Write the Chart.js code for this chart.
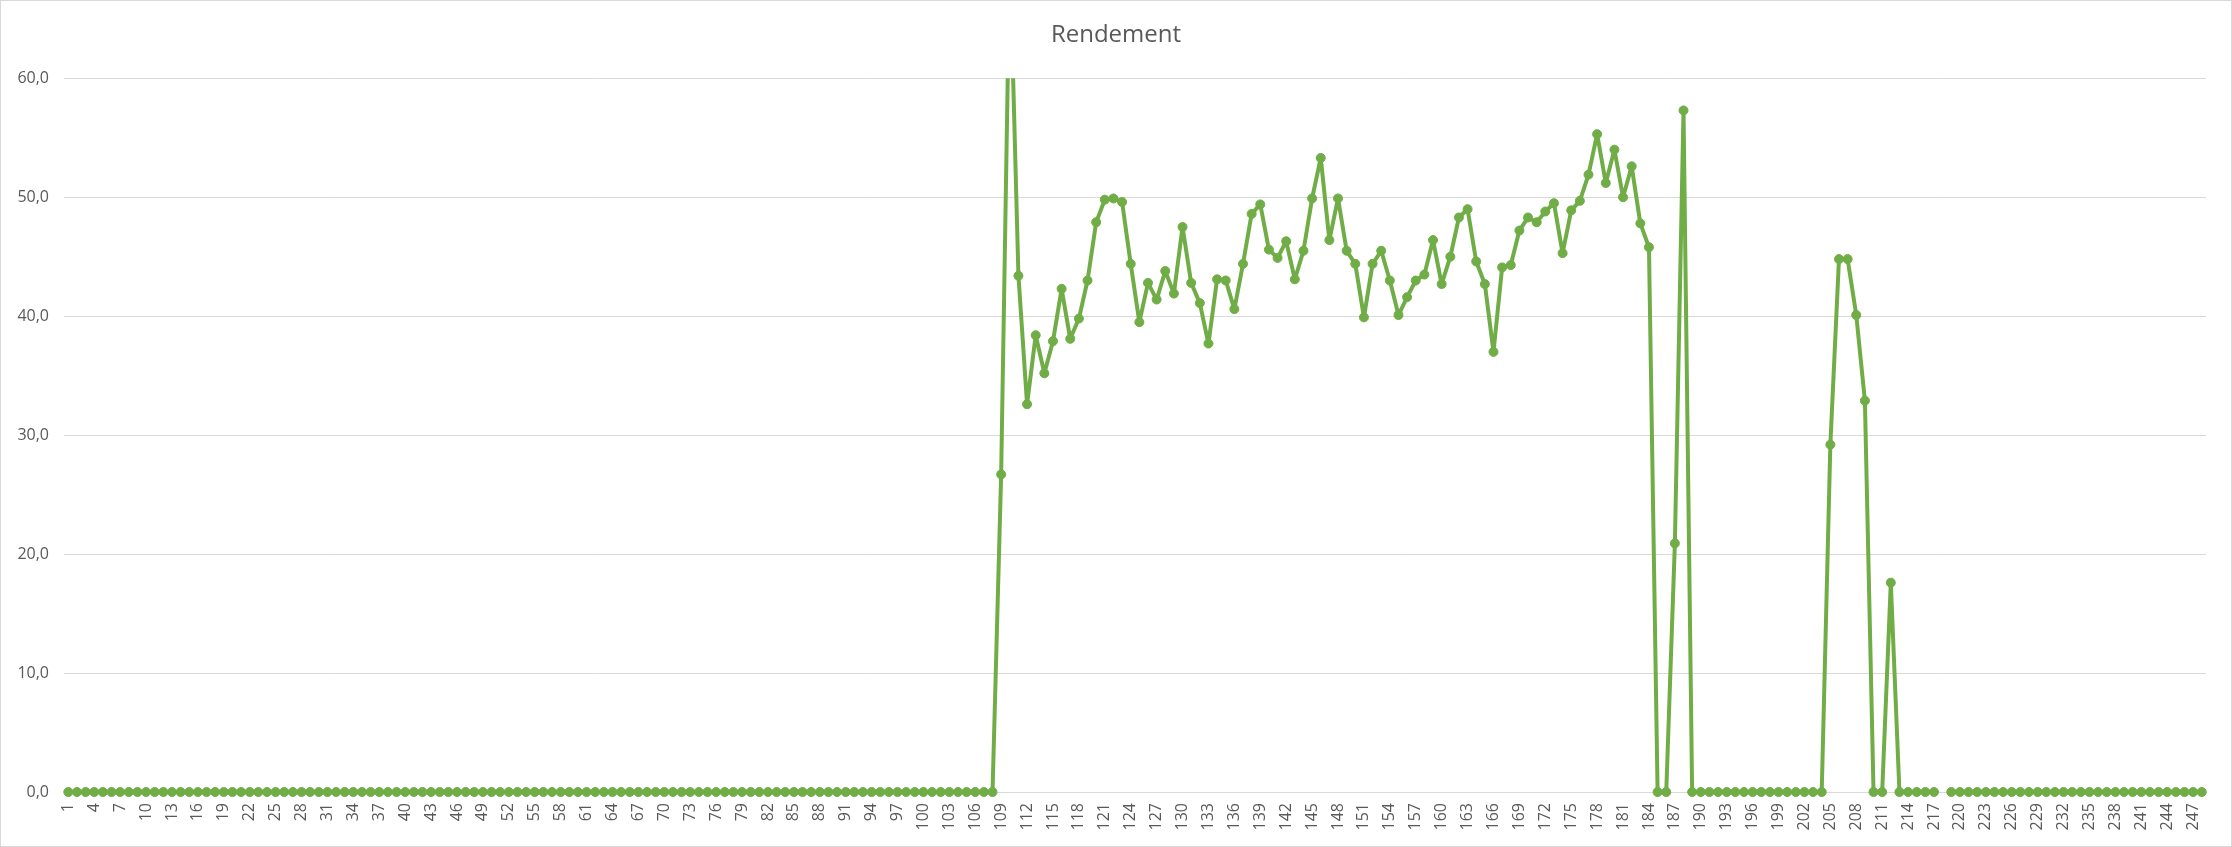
<!DOCTYPE html>
<html><head><meta charset="utf-8">
<script src="https://cdn.jsdelivr.net/npm/chart.js@4"></script>
<style>
html,body{margin:0;padding:0;background:#fff;}
#wrap{position:relative;width:2232px;height:847px;}
#frame{position:absolute;left:0;top:0;width:2232px;height:847px;box-sizing:border-box;border:1px solid #d9d9d9;pointer-events:none;}
canvas{display:block;}
</style></head><body>
<div id="wrap"><canvas id="c" width="2232" height="847"></canvas><div id="frame"></div></div>
<script>
const chartTitle = 'Rendement';

const categories = [
  1,2,3,4,5,6,7,8,9,10,11,12,13,14,15,16,17,18,19,20,
  21,22,23,24,25,26,27,28,29,30,31,32,33,34,35,36,37,38,39,40,
  41,42,43,44,45,46,47,48,49,50,51,52,53,54,55,56,57,58,59,60,
  61,62,63,64,65,66,67,68,69,70,71,72,73,74,75,76,77,78,79,80,
  81,82,83,84,85,86,87,88,89,90,91,92,93,94,95,96,97,98,99,100,
  101,102,103,104,105,106,107,108,109,110,111,112,113,114,115,116,117,118,119,120,
  121,122,123,124,125,126,127,128,129,130,131,132,133,134,135,136,137,138,139,140,
  141,142,143,144,145,146,147,148,149,150,151,152,153,154,155,156,157,158,159,160,
  161,162,163,164,165,166,167,168,169,170,171,172,173,174,175,176,177,178,179,180,
  181,182,183,184,185,186,187,188,189,190,191,192,193,194,195,196,197,198,199,200,
  201,202,203,204,205,206,207,208,209,210,211,212,213,214,215,216,217,218,219,220,
  221,222,223,224,225,226,227,228,229,230,231,232,233,234,235,236,237,238,239,240,
  241,242,243,244,245,246,247,248
];

const rendement = [
  // 1 - 108
  0,0,0,0,0,0,0,0,0,0,0,0,
  0,0,0,0,0,0,0,0,0,0,0,0,
  0,0,0,0,0,0,0,0,0,0,0,0,
  0,0,0,0,0,0,0,0,0,0,0,0,
  0,0,0,0,0,0,0,0,0,0,0,0,
  0,0,0,0,0,0,0,0,0,0,0,0,
  0,0,0,0,0,0,0,0,0,0,0,0,
  0,0,0,0,0,0,0,0,0,0,0,0,
  0,0,0,0,0,0,0,0,0,0,0,0,
  // 109 - 128
  26.7,70.5,43.4,32.6,38.4,35.2,37.9,42.3,38.1,39.8,43.0,47.9,49.8,49.9,49.6,44.4,39.5,42.8,41.4,43.8,
  // 129 - 148
  41.9,47.5,42.8,41.1,37.7,43.1,43.0,40.6,44.4,48.6,49.4,45.6,44.9,46.3,43.1,45.5,49.9,53.3,46.4,49.9,
  // 149 - 168
  45.5,44.4,39.9,44.4,45.5,43.0,40.1,41.6,43.0,43.5,46.4,42.7,45.0,48.3,49.0,44.6,42.7,37.0,44.1,44.3,
  // 169 - 188
  47.2,48.3,47.9,48.8,49.5,45.3,48.9,49.7,51.9,55.3,51.2,54.0,50.0,52.6,47.8,45.8,0,0,20.9,57.3,
  // 189 - 204
  0,0,0,0,0,0,0,0,0,0,0,0,0,0,0,0,
  // 205 - 218
  29.2,44.8,44.8,40.1,32.9,0,0,17.6,0,0,0,0,0,null,
  // 219 - 248
  0,0,0,0,0,0,0,0,0,0,0,0,0,0,0,0,0,0,0,0,0,0,0,0,0,0,0,0,0,0
];

const yMin = 0;
const yMax = 60;
const yStep = 10;

const textColor = '#595959';
const fontFamily = "'Open Sans', 'Noto Sans', sans-serif";

new Chart(document.getElementById('c'), {
  type: 'line',
  data: {
    labels: categories,
    datasets: [{
      label: chartTitle,
      data: rendement,
      borderColor: '#70ad47',
      backgroundColor: '#70ad47',
      borderWidth: 4,
      borderJoinStyle: 'round',
      borderCapStyle: 'round',
      pointRadius: 4.5,
      pointBorderWidth: 1,
      pointBackgroundColor: '#70ad47',
      pointBorderColor: '#70ad47',
      tension: 0,
      spanGaps: false,
      clip: {left: 10, right: 10, top: 0, bottom: 10}
    }]
  },
  options: {
    responsive: false,
    animation: false,
    devicePixelRatio: 1,
    layout: {padding: {left: 0, right: 0, top: 0, bottom: 0}},
    plugins: {
      legend: {display: false},
      tooltip: {enabled: false},
      title: {
        display: true,
        text: chartTitle,
        color: textColor,
        font: {family: fontFamily, size: 24, weight: 'normal'},
        padding: {top: 21, bottom: 28.5}
      }
    },
    scales: {
      x: {
        type: 'category',
        offset: true,
        grid: {display: false, drawTicks: false},
        border: {display: false},
        ticks: {
          autoSkip: false,
          maxRotation: 90,
          minRotation: 90,
          padding: 11,
          color: textColor,
          font: {family: fontFamily, size: 16},
          callback: function(v, i) { return i % 3 === 0 ? String(this.getLabelForValue(v)) : ''; }
        },
        afterFit: function(s) { s.height = 55; }
      },
      y: {
        min: yMin,
        max: yMax,
        grid: {color: '#d9d9d9', lineWidth: 1, drawTicks: false},
        border: {display: false},
        ticks: {
          stepSize: yStep,
          padding: 15,
          color: textColor,
          font: {family: fontFamily, size: 16},
          callback: function(v) { return Number(v).toFixed(1).replace('.', ','); }
        },
        afterFit: function(s) { s.width = 64; }
      },
      yRightSpace: {
        position: 'right',
        min: yMin,
        max: yMax,
        grid: {display: false, drawTicks: false},
        border: {display: false},
        ticks: {display: false},
        afterFit: function(s) { s.width = 23; }
      }
    }
  }
});
</script>
</body></html>
